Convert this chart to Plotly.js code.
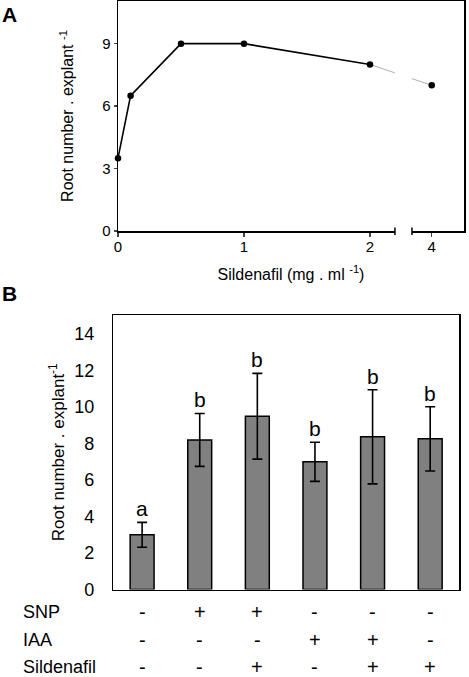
<!DOCTYPE html>
<html><head><meta charset="utf-8">
<script src="https://cdn.plot.ly/plotly-3.0.1.min.js"></script>
<style>html,body{margin:0;padding:0;background:#fff}#chart{width:469px;height:677px}</style>
</head><body><div id="chart"></div>
<script>
// ---- Panel A data ----
const sildenafilDose = [0, 0.1, 0.5, 1, 2, 4];
const rootNumberA = [3.5, 6.5, 9, 9, 8, 7];
const doseTicks = [0, 1, 2, 4];
const rootTicksA = [0, 3, 6, 9];

// ---- Panel B data ----
const treatments = ['Control', 'SNP', 'SNP + Sildenafil', 'IAA', 'IAA + Sildenafil', 'Sildenafil'];
const rootNumberB = [3.0, 8.2, 9.5, 7.0, 8.37, 8.26];
const rootErrB = [0.68, 1.45, 2.35, 1.07, 2.58, 1.76];
const groupLetters = ['a', 'b', 'b', 'b', 'b', 'b'];
const rowLabels = ['SNP', 'IAA', 'Sildenafil'];
const snpRow = ['-', '+', '+', '-', '-', '-'];
const iaaRow = ['-', '-', '-', '+', '+', '-'];
const sildRow = ['-', '-', '+', '-', '+', '+'];
const rootTicksB = [0, 2, 4, 6, 8, 10, 12, 14];

const FONT = 'Liberation Sans, Arial, Helvetica, sans-serif';
const W = 469, H = 677;

// broken x-axis in panel A: values beyond the break are shifted left
const breakAfter = 2.2, axisShift = 1.51;
const pos = v => v <= breakAfter ? v : v - axisShift;
const breakLo = 2.198, breakHi = 2.333;
const xRangeA = [0, 2.746];
const domXA = [118 / W, 464 / W];
const domYA = [1 - 231 / H, 1 - 1 / H];
const domXB = [113.3 / W, 459 / W];
const domYB = [1 - 589.5 / H, 1 - 315 / H];
const paperXA = p => domXA[0] + (p - xRangeA[0]) / (xRangeA[1] - xRangeA[0]) * (domXA[1] - domXA[0]);

const xA = sildenafilDose.map(pos);
const nMain = sildenafilDose.filter(v => v <= breakAfter).length;

const traces = [
  { x: xA.slice(nMain - 1), y: rootNumberA.slice(nMain - 1), xaxis: 'x', yaxis: 'y', mode: 'lines',
    line: { color: '#b0b0b0', width: 1 }, hoverinfo: 'skip', showlegend: false },
  { x: xA.slice(0, nMain), y: rootNumberA.slice(0, nMain), xaxis: 'x', yaxis: 'y', mode: 'lines',
    line: { color: '#000', width: 1.6 }, showlegend: false },
  { x: xA, y: rootNumberA, xaxis: 'x', yaxis: 'y', mode: 'markers', cliponaxis: false,
    marker: { color: '#000', size: 6.5 }, showlegend: false },
  { x: treatments.map((t, i) => i), y: rootNumberB, xaxis: 'x2', yaxis: 'y2', type: 'bar', width: 0.415,
    hovertext: treatments, hoverinfo: 'text+y',
    marker: { color: '#808080', line: { color: '#000', width: 1.5 } },
    error_y: { type: 'data', array: rootErrB, visible: true, color: '#000', thickness: 1.6, width: 5 },
    showlegend: false }
];

const annotations = [];
groupLetters.forEach((l, i) => annotations.push({
  xref: 'x2', yref: 'y2', x: i, y: rootNumberB[i] + rootErrB[i], text: l, showarrow: false,
  yanchor: 'bottom', yshift: 0, font: { family: FONT, size: 21, color: '#000' }
}));
const rows = [snpRow, iaaRow, sildRow];
const rowY = [1 - 611.7 / H, 1 - 640 / H, 1 - 666.7 / H];
rows.forEach((row, r) => {
  annotations.push({ xref: 'paper', yref: 'paper', x: 21 / W, y: rowY[r], xanchor: 'left', yanchor: 'middle',
    text: rowLabels[r], showarrow: false, font: { family: FONT, size: 18, color: '#000' } });
  row.forEach((s, i) => annotations.push({ xref: 'x2', yref: 'paper', x: i, y: rowY[r], yanchor: 'middle',
    text: s, showarrow: false, font: { family: FONT, size: 20, color: '#000' } }));
});
annotations.push({ xref: 'paper', yref: 'paper', x: 0, y: 1 - 15 / H, xanchor: 'left', yanchor: 'middle',
  text: '<b>A</b>', showarrow: false, font: { family: FONT, size: 21, color: '#000' } });
annotations.push({ xref: 'paper', yref: 'paper', x: 0, y: 1 - 293 / H, xanchor: 'left', yanchor: 'middle',
  text: '<b>B</b>', showarrow: false, font: { family: FONT, size: 21, color: '#000' } });

const shapes = [
  { type: 'rect', xref: 'paper', yref: 'paper', layer: 'above',
    x0: paperXA(breakLo), x1: paperXA(breakHi), y0: domYA[0] - 8 / H, y1: domYA[0] + 190 / H,
    fillcolor: '#fff', line: { width: 0 } },
  ...[breakLo, breakHi].map(b => ({ type: 'line', xref: 'paper', yref: 'paper', layer: 'above',
    x0: paperXA(b), x1: paperXA(b), y0: domYA[0] - 4 / H, y1: domYA[0] + 3.5 / H,
    line: { color: '#000', width: 1.5 } }))
];

const axisCommon = { showgrid: false, zeroline: false, showline: true, mirror: true,
  linecolor: '#000', linewidth: 1.5 };

const layout = {
  width: W, height: H, margin: { l: 0, r: 0, t: 0, b: 0 },
  paper_bgcolor: '#fff', plot_bgcolor: '#fff', font: { family: FONT, color: '#000' },
  xaxis: Object.assign({}, axisCommon, { domain: domXA, range: xRangeA, anchor: 'y',
    tickvals: doseTicks.map(pos), ticktext: doseTicks.map(String), ticks: 'outside', ticklen: 4,
    tickwidth: 1.5, tickfont: { size: 15 }, ticklabelstandoff: -3,
    title: { text: 'Sildenafil (mg . ml <sup>-1</sup>)', font: { size: 16 }, standoff: 15 } }),
  yaxis: Object.assign({}, axisCommon, { domain: domYA, range: [0, 11.05], anchor: 'x',
    tickvals: rootTicksA, ticks: 'outside', ticklen: 3, tickwidth: 1.5, tickfont: { size: 15 },
    title: { text: 'Root number . explant <sup>-1</sup>', font: { size: 16 }, standoff: 24 } }),
  xaxis2: Object.assign({}, axisCommon, { domain: domXB, range: [-0.5, 5.5], anchor: 'y2',
    tickvals: [], showticklabels: false, ticks: '' }),
  yaxis2: Object.assign({}, axisCommon, { domain: domYB, range: [0, 15.05], anchor: 'x2',
    tickvals: rootTicksB, ticks: '', tickfont: { size: 18 }, ticklabelstandoff: 14,
    title: { text: 'Root number . explant<sup>-1</sup>', font: { size: 17 }, standoff: 5 } }),
  annotations: annotations,
  shapes: shapes,
  bargap: 0.58
};

Plotly.newPlot('chart', traces, layout, { displayModeBar: false, staticPlot: true });
</script></body></html>
